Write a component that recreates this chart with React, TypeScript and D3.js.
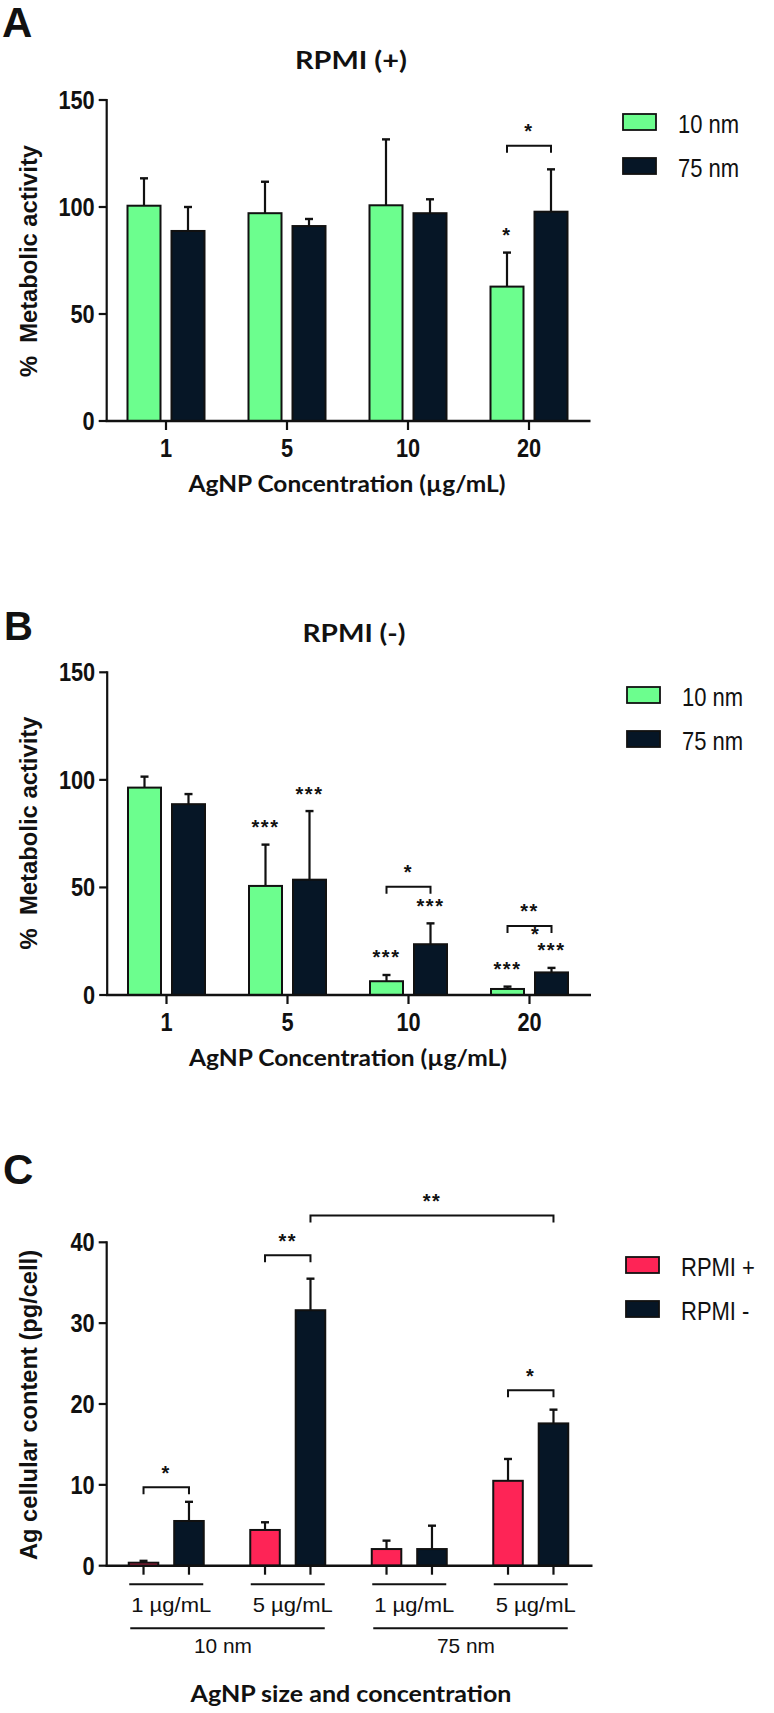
import React from "react";
import * as d3 from "d3";

// ---------- data ----------
const concCategories = ["1", "5", "10", "20"];
const sizeSeries = ["10 nm", "75 nm"];

// Panel A: RPMI (+)
const aMean10 = [100.6, 97.1, 100.8, 62.8];
const aErr10 = [12.8, 14.7, 30.8, 15.9];
const aMean75 = [88.8, 91.1, 97.1, 97.8];
const aErr75 = [11.2, 3.3, 6.5, 19.8];

// Panel B: RPMI (-)
const bMean10 = [96.4, 50.7, 6.4, 2.8];
const bErr10 = [5.1, 19.2, 2.9, 1.1];
const bMean75 = [88.7, 53.6, 23.6, 10.5];
const bErr75 = [4.7, 31.9, 9.7, 2.1];

// Panel C: Ag cellular content
const cGroups = ["10nm-1", "10nm-5", "75nm-1", "75nm-5"];
const cGroupLabels = ["1 µg/mL", "5 µg/mL", "1 µg/mL", "5 µg/mL"];
const cSizeLabels = ["10 nm", "75 nm"];
const mediumSeries = ["RPMI +", "RPMI -"];
const cMeanPlus = [0.37, 4.42, 2.06, 10.5];
const cErrPlus = [0.23, 0.95, 1.04, 2.7];
const cMeanMinus = [5.53, 31.6, 2.06, 17.6];
const cErrMinus = [2.37, 3.9, 2.89, 1.7];

const yTicksMetab = [0, 50, 100, 150];
const yTicksAg = [0, 10, 20, 30, 40];

// significance annotations: stars above bars [groupIndex, seriesIndex, text]
const aStars: [number, number, string][] = [[3, 0, "*"]];
const bStars: [number, number, string][] = [
  [1, 0, "***"], [1, 1, "***"], [2, 0, "***"], [2, 1, "***"], [3, 0, "***"], [3, 1, "***"],
];
// brackets: [groupFrom, seriesFrom, groupTo, seriesTo, level, text]
const aBrackets: [number, number, number, number, number, string][] = [[3, 0, 3, 1, 128.6, "*"]];
const bBrackets: [number, number, number, number, number, string][] = [
  [2, 0, 2, 1, 50.3, "*"],
  [3, 0, 3, 1, 32.1, "**"],
];
const cBrackets: [number, number, number, number, number, string][] = [
  [0, 0, 0, 1, 9.7, "*"],
  [1, 0, 1, 1, 38.4, "**"],
  [1, 1, 3, 1, 43.3, "**"],
  [3, 0, 3, 1, 21.7, "*"],
];

// ---------- styles ----------
const GREEN = "#6cfe8e";
const DARK = "#061626";
const RED = "#fe2456";
const SANS = "'Liberation Sans', Arial, Helvetica, sans-serif";
const TITLE = "Lato, 'Open Sans', sans-serif";

type PanelProps = {
  categories: string[];
  series: string[];
  means: number[][];
  errs: number[][];
  colors: string[];
  yMax: number;
  yTicks: number[];
  yTop: number;
  yBottom: number;
  xRange: [number, number];
  innerRange: [number, number];
  innerPad: number;
  stars: [number, number, string][];
  brackets: [number, number, number, number, number, string][];
  showXTickLabels: boolean;
};

function Stars({ x, cy, text }: { x: number; cy: number; text: string }) {
  return (
    <text x={x} y={cy + 11.5} textAnchor="middle" fontFamily={SANS} fontWeight="bold" fontSize={20} letterSpacing={1.5} fill="#111">
      {text}
    </text>
  );
}

function BarPanel(p: PanelProps) {
  const x = d3.scaleBand<string>().domain(p.categories).range(p.xRange).paddingInner(0).paddingOuter(0);
  const xi = d3.scaleBand<string>().domain(p.series).range(p.innerRange).paddingInner(p.innerPad).paddingOuter(0);
  const y = d3.scaleLinear().domain([0, p.yMax]).range([p.yBottom, p.yTop]);
  const axisX0 = p.xRange[0] + 1.2;
  const barCx = (g: number, s: number) =>
    (x(p.categories[g]) as number) + x.bandwidth() / 2 + (xi(p.series[s]) as number) + xi.bandwidth() / 2;
  const bw = xi.bandwidth();
  const els: React.ReactNode[] = [];
  p.categories.forEach((c, g) => {
    p.series.forEach((s, si) => {
      const cx = barCx(g, si);
      const m = p.means[si][g];
      const e = p.errs[si][g];
      els.push(
        <g key={`b${g}-${si}`}>
          <line x1={cx} x2={cx} y1={y(m)} y2={y(m + e)} stroke="#111" strokeWidth={2.2} />
          <line x1={cx - 4} x2={cx + 4} y1={y(m + e)} y2={y(m + e)} stroke="#111" strokeWidth={2.4} />
          <rect x={cx - bw / 2} y={y(m)} width={bw} height={y(0) - y(m)} fill={p.colors[si]} stroke="#111" strokeWidth={2} />
        </g>
      );
    });
  });
  const xTicks = p.showXTickLabels
    ? p.categories.map((c) => (x(c) as number) + x.bandwidth() / 2)
    : p.categories.flatMap((c, g) => p.series.map((s, si) => barCx(g, si)));
  return (
    <g>
      {els}
      {/* y axis */}
      <line x1={axisX0} x2={axisX0} y1={p.yTop - 1} y2={p.yBottom + 1} stroke="#111" strokeWidth={2.2} />
      {p.yTicks.map((t) => (
        <g key={`yt${t}`}>
          <line x1={axisX0 - 8} x2={axisX0} y1={y(t)} y2={y(t)} stroke="#111" strokeWidth={2.2} />
          <text transform={`translate(${axisX0 - 12},${y(t) + 9}) scale(0.87,1)`} textAnchor="end" fontFamily={SANS} fontWeight="bold" fontSize={25} fill="#111">
            {t}
          </text>
        </g>
      ))}
      {/* x axis */}
      <line x1={axisX0 - 1} x2={p.xRange[1] + 1} y1={p.yBottom} y2={p.yBottom} stroke="#111" strokeWidth={2.4} />
      {xTicks.map((tx, i) => (
        <line key={`xt${i}`} x1={tx} x2={tx} y1={p.yBottom} y2={p.yBottom + 9} stroke="#111" strokeWidth={2.2} />
      ))}
      {p.showXTickLabels &&
        p.categories.map((c) => (
          <text key={`xl${c}`} transform={`translate(${(x(c) as number) + x.bandwidth() / 2},${p.yBottom + 36}) scale(0.87,1)`} textAnchor="middle" fontFamily={SANS} fontWeight="bold" fontSize={25} fill="#111">
            {c}
          </text>
        ))}
      {p.stars.map(([g, si, t], i) => (
        <Stars key={`st${i}`} x={barCx(g, si)} cy={y(p.means[si][g] + p.errs[si][g]) - 22} text={t} />
      ))}
      {p.brackets.map(([g1, s1, g2, s2, lvl, t], i) => {
        const x1 = barCx(g1, s1);
        const x2 = barCx(g2, s2);
        const yy = y(lvl);
        return (
          <g key={`br${i}`}>
            <path d={`M${x1},${yy + 7}V${yy}H${x2}V${yy + 7}`} fill="none" stroke="#111" strokeWidth={2} />
            <Stars x={(x1 + x2) / 2} cy={yy - 19} text={t} />
          </g>
        );
      })}
    </g>
  );
}

function Legend({ x, y, labels, colors }: { x: number; y: number; labels: string[]; colors: string[] }) {
  return (
    <g>
      {labels.map((l, i) => (
        <g key={l}>
          <rect x={x} y={y + i * 44} width={33} height={16} fill={colors[i]} stroke="#111" strokeWidth={1.8} />
          <text transform={`translate(${x + 55},${y + i * 44 + 19}) scale(0.88,1)`} fontFamily={SANS} fontSize={25} fill="#111">
            {l}
          </text>
        </g>
      ))}
    </g>
  );
}

export default function App() {
  return (
    <svg width={774} height={1713} style={{ position: "absolute", left: 0, top: 0, background: "#fff" }}>
      <rect width={774} height={1713} fill="#fff" />
      {/* Panel A */}
      <text x={2} y={37} fontFamily={SANS} fontWeight="bold" fontSize={42} fill="#111">A</text>
      <text x={351} y={68.5} textAnchor="middle" textLength={112} lengthAdjust="spacingAndGlyphs" fontFamily={TITLE} fontWeight="bold" fontSize={24.5} fill="#111">RPMI (+)</text>
      <BarPanel
        categories={concCategories}
        series={sizeSeries}
        means={[aMean10, aMean75]}
        errs={[aErr10, aErr75]}
        colors={[GREEN, DARK]}
        yMax={150}
        yTicks={yTicksMetab}
        yTop={100}
        yBottom={421}
        xRange={[105.5, 589.5]}
        innerRange={[-38.5, 38.5]}
        innerPad={0.25}
        stars={aStars}
        brackets={aBrackets}
        showXTickLabels={true}
      />
      <text transform="translate(36.5,261) rotate(-90)" textAnchor="middle" textLength={232} lengthAdjust="spacingAndGlyphs" fontFamily={SANS} fontWeight="bold" fontSize={23.5} fill="#111" style={{ whiteSpace: "pre" }}>
        {"%  Metabolic activity"}
      </text>
      <text x={347} y={491.5} textAnchor="middle" textLength={317} lengthAdjust="spacingAndGlyphs" fontFamily={TITLE} fontWeight="bold" fontSize={23} fill="#111">
        AgNP Concentration (µg/mL)
      </text>
      <Legend x={623} y={114} labels={sizeSeries} colors={[GREEN, DARK]} />

      {/* Panel B */}
      <text x={4} y={640} fontFamily={SANS} fontWeight="bold" fontSize={40} fill="#111">B</text>
      <text x={354} y={642} textAnchor="middle" textLength={103} lengthAdjust="spacingAndGlyphs" fontFamily={TITLE} fontWeight="bold" fontSize={24.5} fill="#111">RPMI (-)</text>
      <BarPanel
        categories={concCategories}
        series={sizeSeries}
        means={[bMean10, bMean75]}
        errs={[bErr10, bErr75]}
        colors={[GREEN, DARK]}
        yMax={150}
        yTicks={yTicksMetab}
        yTop={672.3}
        yBottom={995}
        xRange={[106, 590]}
        innerRange={[-38.5, 38.5]}
        innerPad={0.25}
        stars={bStars}
        brackets={bBrackets}
        showXTickLabels={true}
      />
      <text x={535} y={941} textAnchor="middle" fontFamily={SANS} fontWeight="bold" fontSize={20} fill="#111">*</text>
      <text transform="translate(36.5,833) rotate(-90)" textAnchor="middle" textLength={233} lengthAdjust="spacingAndGlyphs" fontFamily={SANS} fontWeight="bold" fontSize={23.5} fill="#111" style={{ whiteSpace: "pre" }}>
        {"%  Metabolic activity"}
      </text>
      <text x={348} y={1066} textAnchor="middle" textLength={318} lengthAdjust="spacingAndGlyphs" fontFamily={TITLE} fontWeight="bold" fontSize={23} fill="#111">
        AgNP Concentration (µg/mL)
      </text>
      <Legend x={627} y={687} labels={sizeSeries} colors={[GREEN, DARK]} />

      {/* Panel C */}
      <text x={3} y={1184} fontFamily={SANS} fontWeight="bold" fontSize={42} fill="#111">C</text>
      <BarPanel
        categories={cGroups}
        series={mediumSeries}
        means={[cMeanPlus, cMeanMinus]}
        errs={[cErrPlus, cErrMinus]}
        colors={[RED, DARK]}
        yMax={40}
        yTicks={yTicksAg}
        yTop={1242.3}
        yBottom={1565.7}
        xRange={[105.5, 591.5]}
        innerRange={[-37.5, 37.5]}
        innerPad={0.35}
        stars={[]}
        brackets={cBrackets}
        showXTickLabels={false}
      />
      <text transform="translate(37,1405) rotate(-90)" textAnchor="middle" textLength={310} lengthAdjust="spacingAndGlyphs" fontFamily={SANS} fontWeight="bold" fontSize={23.5} fill="#111">
        Ag cellular content (pg/cell)
      </text>
      {cGroupLabels.map((l, i) => {
        const band = d3.scaleBand<string>().domain(cGroups).range([105.5, 591.5]);
        const cx = (band(cGroups[i]) as number) + band.bandwidth() / 2;
        return (
          <g key={`cg${i}`}>
            <line x1={cx - 37} x2={cx + 37} y1={1584.3} y2={1584.3} stroke="#111" strokeWidth={2} />
            <text x={cx + 5} y={1612} textAnchor="middle" textLength={80} lengthAdjust="spacingAndGlyphs" fontFamily={SANS} fontSize={21} fill="#111">
              {l}
            </text>
          </g>
        );
      })}
      {cSizeLabels.map((l, i) => {
        const band = d3.scaleBand<string>().domain(cGroups).range([105.5, 591.5]);
        const c0 = (band(cGroups[i * 2]) as number) + band.bandwidth() / 2;
        const c1 = (band(cGroups[i * 2 + 1]) as number) + band.bandwidth() / 2;
        return (
          <g key={`cs${i}`}>
            <line x1={c0 - 36} x2={c1 + 37} y1={1628.3} y2={1628.3} stroke="#111" strokeWidth={2} />
            <text x={(c0 + c1) / 2 - 4} y={1653} textAnchor="middle" textLength={58} lengthAdjust="spacingAndGlyphs" fontFamily={SANS} fontSize={21} fill="#111">
              {l}
            </text>
          </g>
        );
      })}
      <text x={351} y={1702} textAnchor="middle" textLength={321} lengthAdjust="spacingAndGlyphs" fontFamily={TITLE} fontWeight="bold" fontSize={23} fill="#111">
        AgNP size and concentration
      </text>
      <Legend x={626} y={1257} labels={mediumSeries} colors={[RED, DARK]} />
    </svg>
  );
}
